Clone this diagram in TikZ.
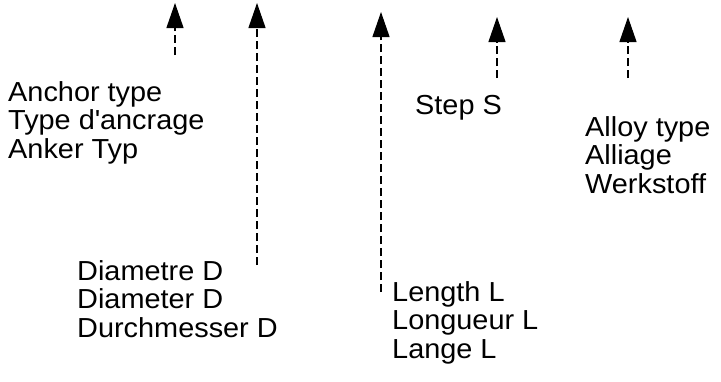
\documentclass[tikz,border=0pt]{standalone}
\usepackage{fontspec}
\setmainfont{Liberation Sans}[FakeStretch=1.05]
\usetikzlibrary{positioning, arrows.meta}
\tikzset{
    lbl/.style={align=left, anchor=north west, inner sep=0pt, font=\fontsize{27.5}{28.7}\selectfont},
    ptr/.style={-{Triangle[length=25pt, width=17pt]}, line width=1.1pt, dash pattern=on 8pt off 4pt},
}

\begin{document}
\begin{tikzpicture}[x=1pt, y=-1pt]
            \useasboundingbox (0,0) rectangle (721,381);
            \node [lbl] (anchor) at (8,81) {Anchor type\\Type d\textquotesingle ancrage\\Anker Typ};
            \node [lbl] (dia) at (77,260) {Diametre D\\Diameter D\\Durchmesser D};
            \node [lbl] (len) at (392,281) {Length L\\Longueur L\\Lange L};
            \node [lbl] (step) at (415,95) {Step S};
            \node [lbl] (alloy) at (585,116) {Alloy type\\Alliage\\Werkstoff};
            \coordinate (anchortip) at (175,3);
            \coordinate (anchortail) at (175,55);
            \coordinate (diatip) at (257,3);
            \coordinate (diatail) at (257,265);
            \coordinate (lentip) at (381,12);
            \coordinate (lentail) at (381,292);
            \coordinate (steptip) at (497,17);
            \coordinate (steptail) at (497,78);
            \coordinate (alloytip) at (628,17);
            \coordinate (alloytail) at (628,78);
            \draw [ptr] (anchortail) -- (anchortip);
            \draw [ptr] (diatail) -- (diatip);
            \draw [ptr] (lentail) -- (lentip);
            \draw [ptr] (steptail) -- (steptip);
            \draw [ptr] (alloytail) -- (alloytip);
        \end{tikzpicture}
\end{document}
